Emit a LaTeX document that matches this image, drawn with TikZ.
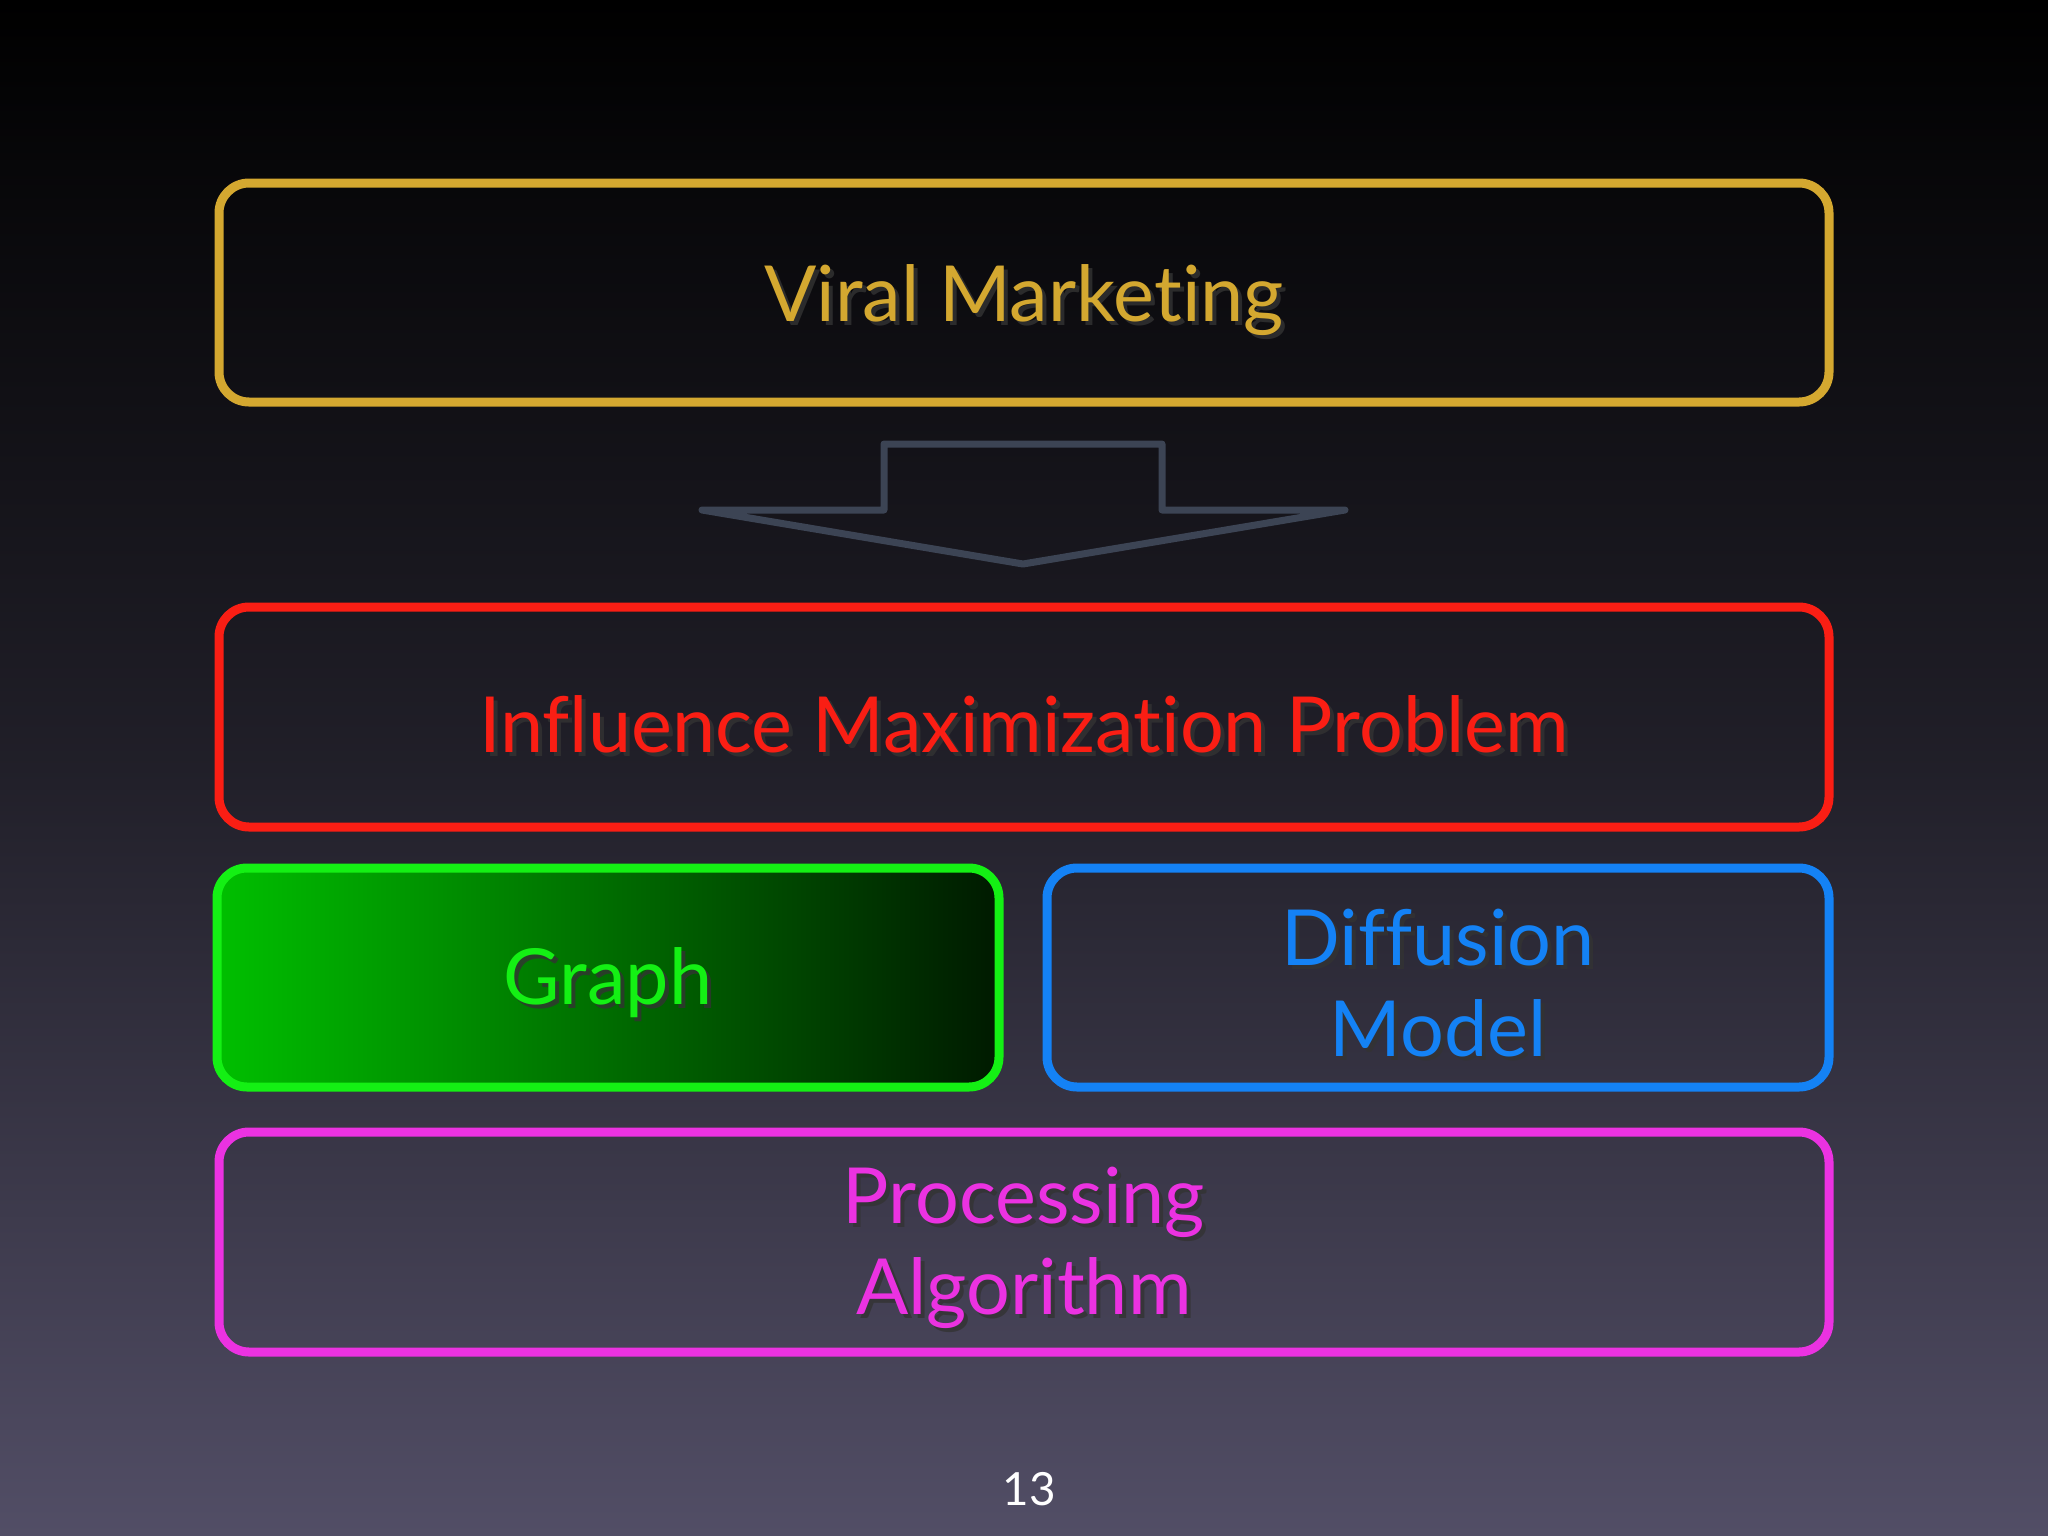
\documentclass[tikz,border=0pt]{standalone}
\usepackage{fontspec}
\setmainfont{Lato}[Ligatures=NoCommon]
\definecolor{vm}{RGB}{212,168,48}
\definecolor{im}{RGB}{250,30,20}
\definecolor{gr}{RGB}{20,240,20}
\definecolor{df}{RGB}{20,130,245}
\definecolor{pa}{RGB}{235,50,225}
\definecolor{ar}{RGB}{60,68,84}
\definecolor{bgb}{RGB}{82,78,102}
\tikzset{
 box/.style={draw=#1,line width=0.09cm,rounded corners=0.3cm},
 lbl/.style={text=#1,font=\fontsize{22}{26}\selectfont,align=center},
}
\newcommand{\shtext}[5]{% name, x, y, color, text
 \node[lbl=black!80,opacity=0.8] at (#2+4,#3+4) {#5};
 \node[lbl=#4] (#1) at (#2,#3) {#5};}
\begin{document}
\begin{tikzpicture}[x=0.01cm,y=-0.01cm]
\shade[top color=black,bottom color=bgb,middle color=black!60!bgb] (0,0) rectangle (2048,1536);
\useasboundingbox (0,0) rectangle (2048,1536);
\draw[box=vm] (219,183) rectangle (1829,402);
\shtext{t1}{1024}{300}{vm}{Viral Marketing}
\draw[ar,line width=0.07cm,line join=round]
 (884,444) -- (1162,444) -- (1162,510) -- (1345,510) -- (1023,564) -- (702,510) -- (884,510) -- cycle;
\draw[box=im] (219,607) rectangle (1829,827);
\shtext{t2}{1024}{724}{im}{Influence Maximization Problem}
\fill[rounded corners=0.3cm,shading=axis,shading angle=135,left color=green!75!black,right color=black!90!green] (217,868) rectangle (999,1087);
\draw[box=gr] (217,868) rectangle (999,1087);
\shtext{t3}{608}{983}{gr}{Graph}
\draw[box=df] (1047,868) rectangle (1829,1087);
\shtext{t4}{1438}{983}{df}{Diffusion\\Model}
\draw[box=pa] (219,1132) rectangle (1829,1352);
\shtext{t5}{1024}{1248}{pa}{Processing\\Algorithm}
\node[text=white,font=\fontsize{13}{15}\selectfont] (pg) at (1029,1489) {13};
\end{tikzpicture}
\end{document}
